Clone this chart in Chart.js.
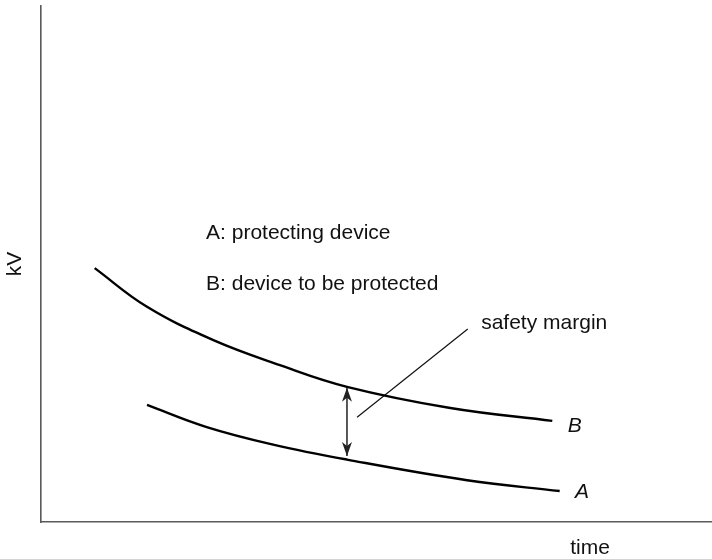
<!DOCTYPE html>
<html>
<head>
    <meta charset="UTF-8">
    <script src="https://cdn.jsdelivr.net/npm/chart.js"></script>
    <style>
        html, body { margin: 0; padding: 0; background: #fff; }
        .chart-container { width: 712px; height: 559px; }
    </style>
</head>
<body>
    <div class="chart-container">
        <canvas id="marginChart" width="712" height="559"></canvas>
    </div>

    <script>
        // curve B: device to be protected
        const timeB = [0.80, 1.58, 2.56, 3.56, 4.56, 6.10, 7.62];
        const kvB   = [4.92, 4.17, 3.53, 3.04, 2.62, 2.21, 1.96];
        // curve A: protecting device
        const timeA = [1.58, 2.47, 3.46, 4.56, 6.35, 7.73];
        const kvA   = [2.27, 1.84, 1.50, 1.21, 0.81, 0.60];
        // safety margin arrow and leader line
        const marginTime = [4.56, 4.56];
        const marginKv   = [2.60, 1.28];
        const leaderTime = [4.71, 6.36];
        const leaderKv   = [2.03, 3.74];

        const FONT = '"Liberation Sans", Arial, sans-serif';

        function pts(xs, ys) {
            return xs.map((x, i) => ({ x: x, y: ys[i] }));
        }

        const annotations = {
            id: 'annotations',
            afterDatasetsDraw(chart) {
                const ctx = chart.ctx;
                const xs = chart.scales.x, ys = chart.scales.y;
                const px = v => xs.getPixelForValue(v);
                const py = v => ys.getPixelForValue(v);

                // arrow heads on the margin line
                ctx.save();
                ctx.fillStyle = '#222';
                const ax = px(marginTime[0]);
                const top = py(marginKv[0]), bot = py(marginKv[1]);
                ctx.beginPath();
                ctx.moveTo(ax, top);
                ctx.lineTo(ax - 5, top + 14);
                ctx.lineTo(ax, top + 10);
                ctx.lineTo(ax + 5, top + 14);
                ctx.closePath();
                ctx.fill();
                ctx.beginPath();
                ctx.moveTo(ax, bot);
                ctx.lineTo(ax - 5, bot - 14);
                ctx.lineTo(ax, bot - 10);
                ctx.lineTo(ax + 5, bot - 14);
                ctx.closePath();
                ctx.fill();

                ctx.fillStyle = '#111';
                ctx.textBaseline = 'middle';
                ctx.textAlign = 'left';
                ctx.font = '21px ' + FONT;
                ctx.fillText('A: protecting device', px(2.46), py(5.60));
                ctx.fillText('B: device to be protected', px(2.46), py(4.61));
                ctx.fillText('safety margin', px(6.56), py(3.86));
                ctx.font = 'italic 21px ' + FONT;
                ctx.fillText('B', px(7.85), py(1.86));
                ctx.fillText('A', px(7.96), py(0.58));

                // axis titles
                ctx.font = '21px ' + FONT;
                ctx.textAlign = 'center';
                ctx.fillText('time', 590, 548);
                ctx.translate(15, 264);
                ctx.rotate(-Math.PI / 2);
                ctx.fillText('kV', 0, 0);
                ctx.restore();
            }
        };

        const curveStyle = {
            borderColor: '#000',
            borderWidth: 2.4,
            pointRadius: 0,
            fill: false,
            tension: 0.4,
            showLine: true
        };

        const axisStyle = {
            type: 'linear', min: 0, max: 10,
            grid: { display: false, drawTicks: false, tickLength: 0 },
            ticks: { display: false },
            border: { display: true, color: '#5a5a5a', width: 1.6 }
        };

        new Chart(document.getElementById('marginChart'), {
            type: 'scatter',
            data: {
                datasets: [
                    Object.assign({ label: 'B', data: pts(timeB, kvB) }, curveStyle),
                    Object.assign({ label: 'A', data: pts(timeA, kvA) }, curveStyle),
                    { label: 'margin', data: pts(marginTime, marginKv), showLine: true,
                      borderColor: '#222', borderWidth: 1.5, pointRadius: 0 },
                    { label: 'leader', data: pts(leaderTime, leaderKv), showLine: true,
                      borderColor: '#111', borderWidth: 1.2, pointRadius: 0 }
                ]
            },
            options: {
                responsive: false,
                animation: false,
                layout: { padding: { left: 41, top: 6, right: 0, bottom: 37 } },
                plugins: { legend: { display: false }, tooltip: { enabled: false } },
                scales: {
                    x: Object.assign({}, axisStyle),
                    y: Object.assign({}, axisStyle)
                }
            },
            plugins: [annotations]
        });
    </script>
</body>
</html>
